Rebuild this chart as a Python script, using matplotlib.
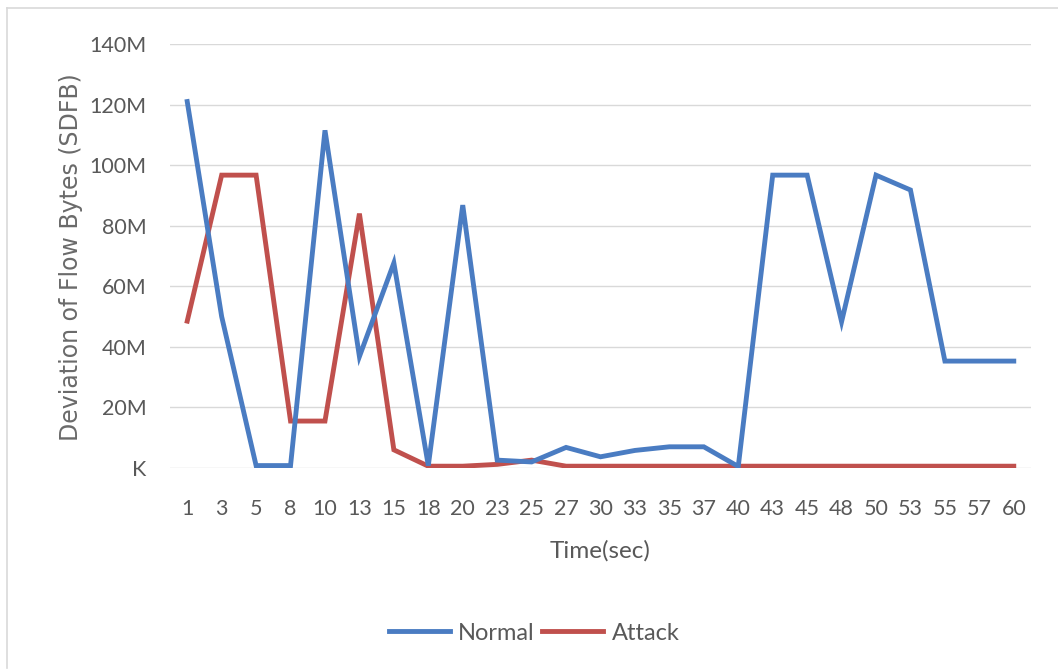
import matplotlib
matplotlib.use("Agg")
import matplotlib.pyplot as plt
from matplotlib.lines import Line2D
from matplotlib.ticker import FuncFormatter

# Sample times (seconds) shown on the category axis
times = ["1", "3", "5", "8", "10", "13", "15", "18", "20", "23", "25", "27", "30",
         "33", "35", "37", "40", "43", "45", "48", "50", "53", "55", "57", "60"]

# Standard deviation of flow bytes, in bytes
normal = [121.0e6, 50.0e6, 0.8e6, 0.8e6, 111.5e6, 36.8e6, 67.7e6, 0.8e6, 86.8e6,
          2.6e6, 2.0e6, 6.8e6, 3.7e6, 5.8e6, 7.0e6, 7.0e6, 0.5e6, 96.7e6, 96.7e6,
          48.3e6, 96.7e6, 91.8e6, 35.3e6, 35.3e6, 35.3e6]
attack = [48.5e6, 96.7e6, 96.7e6, 15.5e6, 15.5e6, 84.0e6, 6.0e6, 0.6e6, 0.6e6,
          1.2e6, 2.6e6, 0.6e6, 0.6e6, 0.6e6, 0.6e6, 0.6e6, 0.6e6, 0.6e6, 0.6e6,
          0.6e6, 0.6e6, 0.6e6, 0.6e6, 0.6e6, 0.6e6]

y_ticks = [0, 20e6, 40e6, 60e6, 80e6, 100e6, 120e6, 140e6]

BLUE = "#4A7CC2"
RED = "#C0504D"
TEXT = "#595959"
GRID = "#D9D9D9"
FONT = "Lato"

fig = plt.figure(figsize=(10.58, 6.72), dpi=100)
ax = fig.add_axes([170 / 1058, 1 - 468 / 672, (1031 - 170) / 1058, (468 - 44) / 672])

x = list(range(len(times)))
ax.plot(x, normal, color=BLUE, lw=3.5, solid_joinstyle="miter", label="Normal", zorder=3)
ax.plot(x, attack, color=RED, lw=3.5, solid_joinstyle="miter", label="Attack", zorder=2)

ax.set_xlim(-0.5, len(times) - 0.5)
ax.set_ylim(0, 140e6)
ax.set_xticks(x)
ax.set_xticklabels(times)
ax.set_yticks(y_ticks)


def fmt_m(v, _pos):
    return "K" if v == 0 else f"{v / 1e6:.0f}M"


ax.yaxis.set_major_formatter(FuncFormatter(fmt_m))

for s in ax.spines.values():
    s.set_visible(False)
ax.grid(axis="y", color=GRID, lw=1.0)
ax.set_axisbelow(True)
ax.tick_params(axis="both", length=0, colors=TEXT, labelsize=15.5)
ax.tick_params(axis="x", pad=22)
ax.tick_params(axis="y", pad=17)
for lab in ax.get_xticklabels() + ax.get_yticklabels():
    lab.set_fontfamily(FONT)

fig.text(600 / 1058, 1 - 551 / 672, "Time(sec)", ha="center", va="center",
         fontsize=17.5, color=TEXT, family=FONT)
fig.text(71 / 1058, 1 - 257 / 672, "Deviation of Flow Bytes (SDFB)", rotation=90,
         ha="center", va="center", fontsize=17, color="#6A6A6A", family="DejaVu Sans")

leg = fig.legend(loc="center", bbox_to_anchor=(534 / 1058, 1 - 633 / 672), ncol=2,
                 frameon=False, handlelength=2.6, handletextpad=0.35, columnspacing=0.3,
                 prop={"family": FONT, "size": 17})
for t in leg.get_texts():
    t.set_color(TEXT)

# light frame around the chart area
fig.add_artist(Line2D([7 / 1058, 7 / 1058], [1 - 668 / 672, 1 - 8 / 672],
                      transform=fig.transFigure, color=GRID, lw=1.2))
fig.add_artist(Line2D([7 / 1058, 1.0], [1 - 8 / 672, 1 - 8 / 672],
                      transform=fig.transFigure, color=GRID, lw=1.2))

fig.savefig("out.png", dpi=100, facecolor="white")
